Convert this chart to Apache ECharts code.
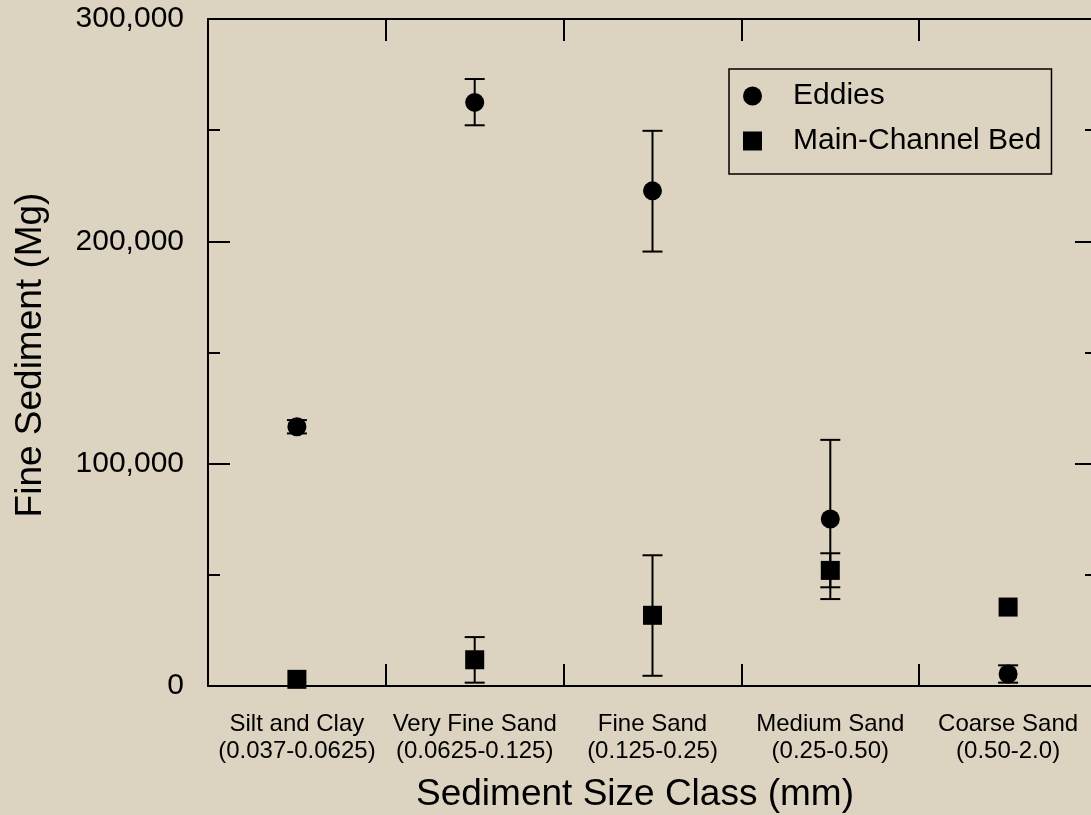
<!DOCTYPE html>
<html>
<head>
<meta charset="utf-8">
<script src="https://cdn.jsdelivr.net/npm/echarts@6/dist/echarts.min.js"></script>
<style>
  html, body { margin: 0; padding: 0; background: #dcd3c1; overflow: hidden; }
  #chart { width: 1098px; height: 815px; }
</style>
</head>
<body>
<div id="chart"></div>
<script>
// ---- data ----
const categories = ['Silt and Clay', 'Very Fine Sand', 'Fine Sand', 'Medium Sand', 'Coarse Sand'];
const sizeRanges = ['(0.037-0.0625)', '(0.0625-0.125)', '(0.125-0.25)', '(0.25-0.50)', '(0.50-2.0)'];
const eddiesValues = [116600, 262500, 222700, 75100, 5400];
const eddiesLow    = [113600, 252200, 195400, 39100, 1500];
const eddiesHigh   = [119600, 273000, 249700, 110700, 9300];
const bedValues = [3000, 11800, 31800, 52000, 35500];
const bedLow    = [null, 1500, 4600, 44400, null];
const bedHigh   = [null, 22000, 58800, 59700, null];
const yMin = 0, yMax = 300000, yInterval = 100000;
const seriesNames = ['Eddies', 'Main-Channel Bed'];
const xTitle = 'Sediment Size Class (mm)';
const yTitle = 'Fine Sediment (Mg)';

const FONT = 'Liberation Sans, Arial, Helvetica, sans-serif';
const labels = categories.map((c, i) => c + '\n' + sizeRanges[i]);

function errData(low, high) {
  const out = [];
  low.forEach((l, i) => { if (l != null && high[i] != null) out.push([i, l, high[i]]); });
  return out;
}

function renderErr(params, api) {
  const i = api.value(0);
  const lo = api.coord([i, api.value(1)]);
  const hi = api.coord([i, api.value(2)]);
  const hw = 10;
  const st = { stroke: '#000', lineWidth: 2 };
  return {
    type: 'group',
    children: [
      { type: 'line', shape: { x1: lo[0], y1: lo[1], x2: hi[0], y2: hi[1] }, style: st },
      { type: 'line', shape: { x1: lo[0] - hw, y1: lo[1], x2: lo[0] + hw, y2: lo[1] }, style: st },
      { type: 'line', shape: { x1: hi[0] - hw, y1: hi[1], x2: hi[0] + hw, y2: hi[1] }, style: st }
    ]
  };
}

const axisLine = { show: true, onZero: false, lineStyle: { color: '#000', width: 2 } };
const tick = { show: true, inside: true, length: 22, lineStyle: { color: '#000', width: 2 } };
const minorTick = { show: true, splitNumber: 2, length: 12, lineStyle: { color: '#000', width: 2 } };

const chart = echarts.init(document.getElementById('chart'), null, { renderer: 'canvas' });
chart.setOption({
  backgroundColor: '#dcd3c1',
  animation: false,
  textStyle: { fontFamily: FONT, color: '#000' },
  grid: { left: 208, top: 19, right: 1, bottom: 129, containLabel: false },
  legend: {
    orient: 'vertical',
    left: 729,
    top: 69,
    data: [{ name: seriesNames[0], icon: 'circle' }, { name: seriesNames[1], icon: 'rect' }],
    itemWidth: 19,
    itemHeight: 19,
    itemGap: 15,
    borderColor: '#000',
    borderWidth: 1.5,
    borderRadius: 0,
    padding: [12, 10, 18, 14],
    textStyle: { fontSize: 30, lineHeight: 30, color: '#000', fontFamily: FONT, padding: [0, 0, 0, 26] }
  },
  xAxis: [
    {
      type: 'category', data: labels, position: 'bottom', boundaryGap: true,
      axisLine: axisLine, axisTick: tick, splitLine: { show: false },
      axisLabel: { fontSize: 24, lineHeight: 27, color: '#000', fontFamily: FONT, margin: 25, interval: 0 }
    },
    {
      type: 'category', data: labels, position: 'top', boundaryGap: true,
      axisLine: axisLine, axisTick: tick, axisLabel: { show: false }, splitLine: { show: false }
    }
  ],
  yAxis: [
    {
      type: 'value', min: yMin, max: yMax, interval: yInterval, position: 'left',
      axisLine: axisLine, axisTick: tick, minorTick: minorTick,
      splitLine: { show: false }, minorSplitLine: { show: false },
      axisLabel: {
        fontSize: 30, color: '#000', fontFamily: FONT, margin: 24,
        formatter: v => String(v).replace(/\B(?=(\d{3})+(?!\d))/g, ',')
      }
    },
    {
      type: 'value', min: yMin, max: yMax, interval: yInterval, position: 'right',
      axisLine: axisLine, axisTick: tick, minorTick: minorTick,
      splitLine: { show: false }, minorSplitLine: { show: false },
      axisLabel: { show: false }
    }
  ],
  graphic: [
    {
      type: 'text', x: 635, y: 794.5,
      style: { text: xTitle, fontSize: 37, fontFamily: FONT, fill: '#000', align: 'center', verticalAlign: 'middle' }
    },
    {
      type: 'text', x: 31, y: 355, rotation: Math.PI / 2,
      style: { text: yTitle, fontSize: 37, fontFamily: FONT, fill: '#000', align: 'center', verticalAlign: 'middle' }
    }
  ],
  series: [
    {
      type: 'custom', name: seriesNames[0] + ' error', renderItem: renderErr,
      data: errData(eddiesLow, eddiesHigh), encode: { x: 0, y: [1, 2] }, z: 3, silent: true
    },
    {
      type: 'custom', name: seriesNames[1] + ' error', renderItem: renderErr,
      data: errData(bedLow, bedHigh), encode: { x: 0, y: [1, 2] }, z: 3, silent: true
    },
    {
      type: 'scatter', name: seriesNames[0], data: eddiesValues, symbol: 'circle', symbolSize: 19,
      itemStyle: { color: '#000', opacity: 1 }, z: 4
    },
    {
      type: 'scatter', name: seriesNames[1], data: bedValues, symbol: 'rect', symbolSize: 19,
      itemStyle: { color: '#000', opacity: 1 }, z: 4
    }
  ]
});
</script>
</body>
</html>
